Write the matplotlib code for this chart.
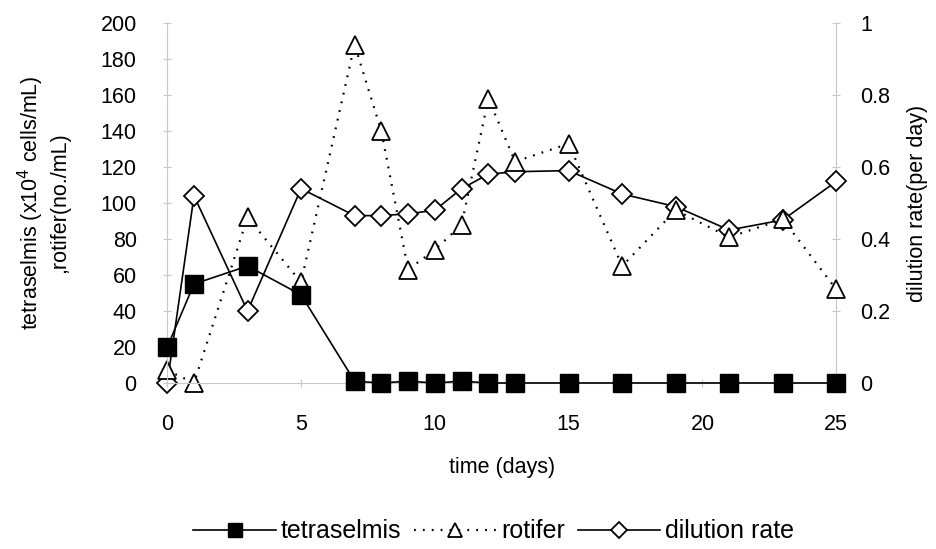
import matplotlib
matplotlib.use("Agg")
import matplotlib.pyplot as plt

plt.rcParams['font.family'] = ['Liberation Sans', 'DejaVu Sans']

# Data
days_tet = [0, 1, 3, 5, 7, 8, 9, 10, 11, 12, 13, 15, 17, 19, 21, 23, 25]
tetraselmis = [20, 55, 65, 49, 1, 0, 1, 0, 1, 0, 0, 0, 0, 0, 0, 0, 0]

days_rot = [0, 1, 3, 5, 7, 8, 9, 10, 11, 12, 13, 15, 17, 19, 21, 23, 25]
rotifer = [7, 0, 92, 56, 188, 140, 63, 74, 88, 158, 123, 133, 65, 96, 81, 91, 52]

days_dil = [0, 1, 3, 5, 7, 8, 9, 10, 11, 12, 13, 15, 17, 19, 21, 23, 25]
dilution = [0.0, 0.52, 0.20, 0.54, 0.465, 0.465, 0.47, 0.48, 0.54, 0.58, 0.587, 0.59,
            0.525, 0.49, 0.425, 0.453, 0.56]

x_ticks = [0, 5, 10, 15, 20, 25]
left_ticks = list(range(0, 201, 20))
right_ticks = [0, 0.2, 0.4, 0.6, 0.8, 1]

AXIS_GREY = "#c8c8c8"
FS = 15.5

fig = plt.figure(figsize=(9.37, 5.49), dpi=100)
ax = fig.add_axes([0.1785, 0.3024, 0.714, 0.6556])
ax2 = ax.twinx()

l1, = ax.plot(days_tet, tetraselmis, color="black", lw=1.2, marker="s", ms=12.5,
              mfc="black", mec="black", clip_on=False, zorder=3, label="tetraselmis")
l2, = ax.plot(days_rot, rotifer, color="black", lw=1.6, ls=(0, (0.8, 3.2)), marker="^",
              ms=13, mfc="white", mec="black", mew=1.3, clip_on=False, zorder=2,
              label="rotifer")
l3, = ax2.plot(days_dil, dilution, color="black", lw=1.2, marker="D", ms=10.5,
               mfc="white", mec="black", mew=1.3, clip_on=False, zorder=4,
               label="dilution rate")

ax.set_xlim(0, 25)
ax.set_ylim(0, 200)
ax2.set_ylim(0, 1)
ax.set_xticks(x_ticks)
ax.set_yticks(left_ticks)
ax2.set_yticks(right_ticks)
ax2.set_yticklabels(["0", "0.2", "0.4", "0.6", "0.8", "1"])

for a in (ax, ax2):
    a.set_facecolor("none")
    a.spines["top"].set_visible(False)
    for s in ("left", "right", "bottom"):
        a.spines[s].set_color(AXIS_GREY)
        a.spines[s].set_linewidth(0.8)
    a.tick_params(colors=AXIS_GREY, labelcolor="black", labelsize=FS, direction="inout",
                  length=6, width=0.8)
ax.spines["right"].set_visible(False)
ax2.spines["left"].set_visible(False)
ax2.spines["bottom"].set_visible(False)
ax.tick_params(axis="y", pad=19)
ax.tick_params(axis="x", pad=19)
ax2.tick_params(axis="y", pad=14)
ax.set_zorder(ax2.get_zorder() + 1)
ax.patch.set_visible(False)

ax.set_xlabel("time (days)", fontsize=FS, labelpad=16)
ax.set_ylabel("tetraselmis (x10$^4$ cells/mL)\n,rotifer(no./mL)", fontsize=FS,
              labelpad=22, linespacing=1.2)
ax2.set_ylabel("dilution rate(per day)", fontsize=FS, labelpad=12)

fig.legend(handles=[l1, l2, l3], loc="center", bbox_to_anchor=(0.527, 0.032), ncol=3,
           frameon=False, fontsize=18, handlelength=3.3, handletextpad=0.2,
           columnspacing=0.5, markerscale=0.75, borderpad=0.2)

fig.savefig("out.png", dpi=100)
